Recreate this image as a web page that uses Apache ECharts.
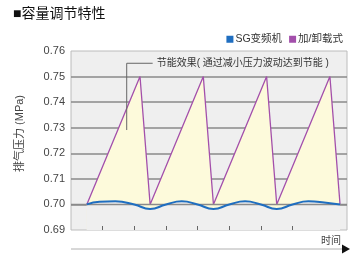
<!DOCTYPE html>
<html>
<head>
<meta charset="utf-8">
<script src="https://cdn.jsdelivr.net/npm/echarts@6/dist/echarts.min.js"></script>
<style>
  html, body { margin: 0; padding: 0; background: #fff; }
  #chart { width: 360px; height: 262px; }
</style>
</head>
<body>
<div id="chart"></div>
<script>
// Load/unload compressor: pressure climbs to the upper limit, then drops back
const sawX = [0.5, 2.18, 2.5, 4.18, 4.5, 6.18, 6.5, 8.18, 8.5];
const sawY = [0.700, 0.750, 0.700, 0.750, 0.700, 0.750, 0.700, 0.750, 0.700];

// Variable-speed compressor: small ripple around the set pressure
const waveX = [0.5, 0.9, 1.4, 2.0, 2.5, 3.0, 3.5, 4.0, 4.5, 5.0, 5.5, 6.0, 6.5, 7.0, 7.5, 8.0, 8.5];
const waveY = [0.7000, 0.7010, 0.7012, 0.7000, 0.6982, 0.7000, 0.7012, 0.7000, 0.6982,
               0.7000, 0.7012, 0.7000, 0.6982, 0.7000, 0.7012, 0.7008, 0.7000];

// Set pressure line
const setX = [0, 8.72];
const setY = [0.700, 0.700];

const timeTicks = [1, 2, 3, 4, 5, 6, 7];
const yMin = 0.69, yMax = 0.76, yStep = 0.01;

const seriesNames = ['SG变频机', '加/卸载式'];
const titleText = '■容量调节特性';
const yName = '排气压力 (MPa)';
const xName = '时间';
const noteText = '节能效果( 通过减小压力波动达到节能 )';

const FONT = '"Liberation Sans", "Noto Sans CJK SC", sans-serif';
const PLOT_BG = '#efefef';
const BLUE = '#1f6ec0';
const PURPLE = '#a34fab';

const zip = (xs, ys) => xs.map((x, i) => [x, ys[i]]);

const chart = echarts.init(document.getElementById('chart'), null, { renderer: 'canvas' });

chart.setOption({
  animation: false,
  backgroundColor: '#fff',
  textStyle: { fontFamily: FONT },
  title: {
    text: titleText,
    left: 8, top: 2,
    textStyle: { fontSize: 14, fontWeight: 'normal', color: '#111', fontFamily: FONT }
  },
  legend: {
    data: [seriesNames[0], seriesNames[1]],
    right: 12, top: 29,
    icon: 'rect', itemWidth: 7, itemHeight: 7, itemGap: 7,
    textStyle: { fontSize: 10.5, color: '#333', padding: [0, 0, 0, -3] }
  },
  grid: {
    left: 71, right: 13, top: 51, bottom: 32,
    show: true, backgroundColor: PLOT_BG, borderColor: '#bcbcbc', borderWidth: 1
  },
  xAxis: {
    type: 'value', min: 0, max: 8.72, z: 10,
    axisLine: { show: false },
    axisLabel: { show: false },
    splitLine: { show: false },
    axisTick: {
      show: true, inside: true, length: 4, customValues: timeTicks,
      lineStyle: { color: '#666', width: 1 }
    }
  },
  yAxis: {
    type: 'value', min: yMin, max: yMax, interval: yStep,
    name: yName, nameLocation: 'middle', nameRotate: 90, nameGap: 46,
    nameTextStyle: { fontSize: 11, color: '#444', padding: [0, 0, 0, 14] },
    axisLine: { show: false },
    axisTick: { show: false },
    axisLabel: { fontSize: 11, color: '#444', margin: 6, formatter: v => v.toFixed(2) },
    splitLine: { show: true, showMinLine: false, showMaxLine: false, lineStyle: { color: '#8a8a8a', width: 1.5 } }
  },
  series: [
    {
      name: seriesNames[1], type: 'line', data: zip(sawX, sawY),
      symbol: 'none', z: 2,
      itemStyle: { color: PURPLE },
      lineStyle: { color: PURPLE, width: 1.3 },
      areaStyle: { color: '#fdfadb', opacity: 1, origin: 'start' }
    },
    {
      // background fill beneath the ripple curve
      type: 'line', data: zip(waveX, waveY), smooth: 0.5,
      symbol: 'none', z: 3, silent: true,
      lineStyle: { width: 0 },
      areaStyle: { color: PLOT_BG, opacity: 1, origin: 'start' }
    },
    {
      type: 'line', data: zip(setX, setY),
      symbol: 'none', z: 4, silent: true,
      lineStyle: { color: '#8a8a8a', width: 1.5 }
    },
    {
      name: seriesNames[0], type: 'line', data: zip(waveX, waveY), smooth: 0.5,
      symbol: 'none', z: 5,
      itemStyle: { color: BLUE },
      lineStyle: { color: BLUE, width: 2 }
    }
  ]
});

// Annotation leader, time axis arrow and its label
const p = (x, y) => chart.convertToPixel({ gridIndex: 0 }, [x, y]);
const a0 = p(1.76, 0.7291);
const a1 = p(1.76, 0.7552);
const a2 = p(2.58, 0.7552);
const grid = chart.getModel().getComponent('grid', 0).coordinateSystem.getRect();
const axisY = 249;

chart.setOption({
  graphic: [
    {
      type: 'polyline', silent: true, z: 20,
      shape: { points: [a0, a1, a2] },
      style: { stroke: '#666', lineWidth: 1, fill: null }
    },
    {
      type: 'text', silent: true, z: 20,
      x: a2[0] + 4, y: a2[1],
      style: { text: noteText, fontSize: 10, fill: '#333', fontFamily: FONT, verticalAlign: 'middle' }
    },
    {
      type: 'line', silent: true,
      shape: { x1: grid.x, y1: axisY, x2: grid.x + grid.width - 4, y2: axisY },
      style: { stroke: '#b0b0b0', lineWidth: 1 }
    },
    {
      type: 'polygon', silent: true,
      shape: { points: [[grid.x + grid.width - 5, axisY - 4.5], [grid.x + grid.width + 3, axisY], [grid.x + grid.width - 5, axisY + 4.5]] },
      style: { fill: '#111' }
    },
    {
      type: 'text', silent: true,
      x: grid.x + grid.width - 6, y: axisY - 8,
      style: { text: xName, fontSize: 10, fill: '#444', fontFamily: FONT, align: 'right', verticalAlign: 'middle' }
    }
  ]
});
</script>
</body>
</html>
